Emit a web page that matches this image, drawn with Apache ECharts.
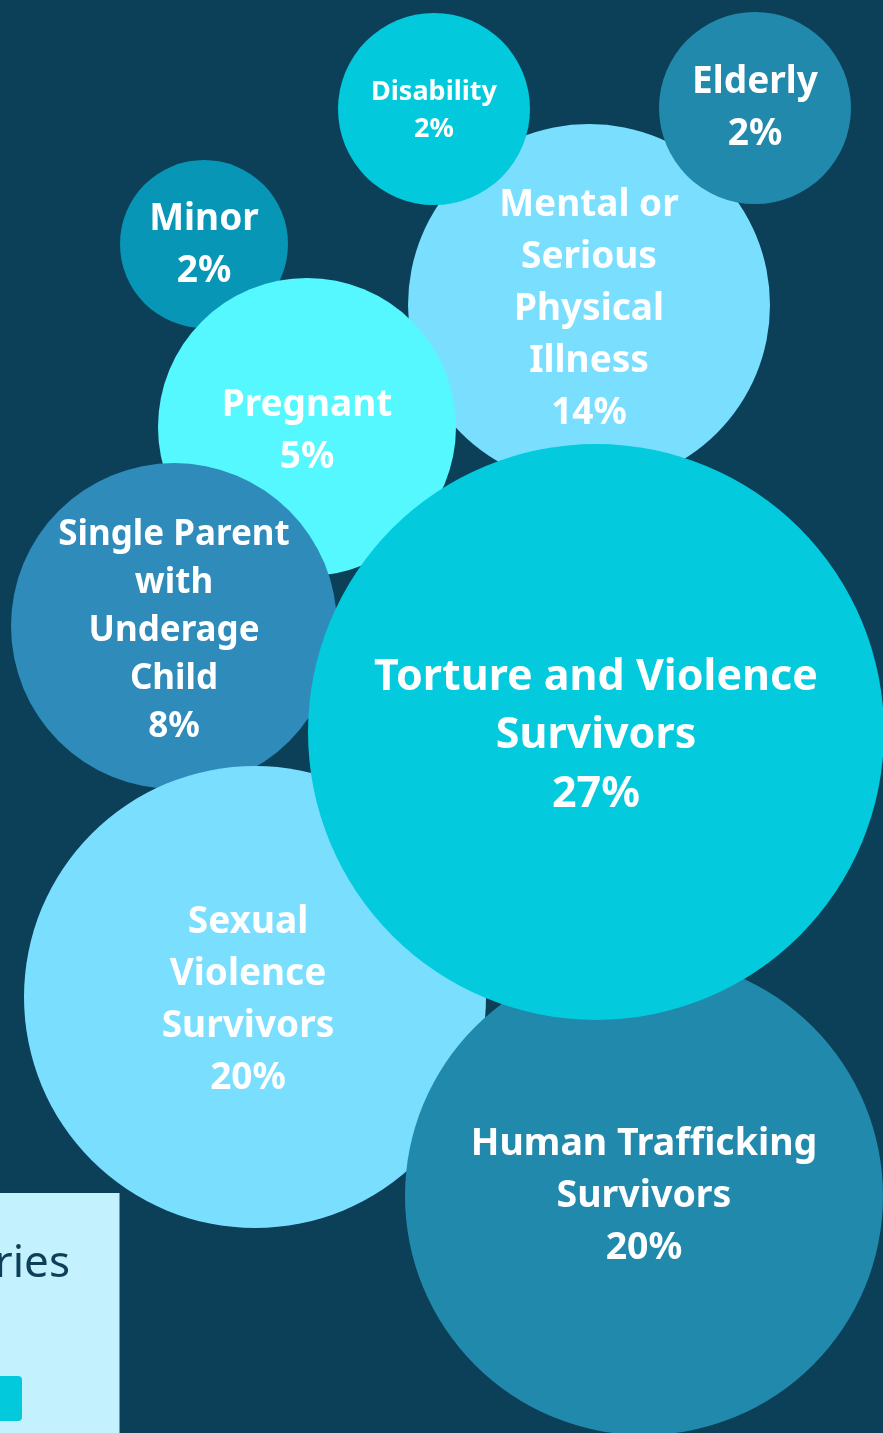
<!DOCTYPE html>
<html>
<head>
<meta charset="utf-8">
<script src="https://cdn.jsdelivr.net/npm/echarts@6/dist/echarts.min.js"></script>
<style>
  html, body { margin: 0; padding: 0; background: #0c3f58; }
  #chart { width: 883px; height: 1433px; }
</style>
</head>
<body>
<div id="chart"></div>
<script>
// ---- data (listed in drawing order, back to front) ----
const categories = [
  "Minor",
  "Mental or\nSerious\nPhysical\nIllness",
  "Disability",
  "Elderly",
  "Pregnant",
  "Single Parent\nwith\nUnderage\nChild",
  "Sexual\nViolence\nSurvivors",
  "Human Trafficking\nSurvivors",
  "Torture and Violence\nSurvivors"
];
const percentValues = [2, 14, 2, 2, 5, 8, 20, 20, 27];
const legendTitle = "Categories";

// ---- packed-bubble layout (pixel space): centre x, centre y, radius ----
const layoutCx = [204, 589, 434, 755, 307, 174, 255, 644, 596];
const layoutCy = [244, 305, 109, 108, 427, 626, 997, 1196, 732];
const layoutR  = [84, 181, 96, 96, 149, 163, 231, 239, 288];
const labelFont = [37, 37, 27, 37, 37, 35, 37, 37.5, 43];
const labelLine = [52, 52, 37, 52, 52, 48, 52, 52, 58.5];
const labelDx   = [0, 0, 0, 0, 0, 0, -7, 0, 0];
const labelDy   = [1, 4, 2, 0, 4, 5, 3, 0, 4];
const colors = ["#0896b6", "#7adfff", "#03c9dd", "#2089ac", "#55f8ff",
                "#2e8bba", "#7adfff", "#2089ac", "#03cadd"];

const W = 883, H = 1433;
const chart = echarts.init(document.getElementById('chart'), null, { renderer: 'canvas' });

const seriesData = categories.map((name, i) => ({
  name: name,
  value: [layoutCx[i], layoutCy[i], percentValues[i]],
  symbolSize: layoutR[i] * 2,
  itemStyle: { color: colors[i], opacity: 1 },
  label: {
    fontSize: labelFont[i],
    lineHeight: labelLine[i],
    offset: [labelDx[i], labelDy[i]]
  }
}));

chart.setOption({
  backgroundColor: '#0c3f58',
  animation: false,
  grid: { left: 0, right: 0, top: 0, bottom: 0 },
  xAxis: { type: 'value', min: 0, max: W, show: false },
  yAxis: { type: 'value', min: 0, max: H, inverse: true, show: false },
  series: [{
    type: 'scatter',
    symbol: 'circle',
    data: seriesData,
    label: {
      show: true,
      position: 'inside',
      align: 'center',
      verticalAlign: 'middle',
      color: '#ffffff',
      fontFamily: 'Noto Sans',
      fontWeight: 'bold',
      formatter: p => p.name + '\n' + p.value[2] + '%'
    },
    emphasis: { disabled: true }
  }],
  graphic: [
    { type: 'rect', shape: { x: -10, y: 1193, width: 129.5, height: 260 },
      style: { fill: '#c3f1fd' }, z: 10 },
    { type: 'text', x: 70, y: 1286, z: 11,
      style: { text: legendTitle, textAlign: 'right', textVerticalAlign: 'bottom',
               font: '44px "Noto Sans"', fill: '#0d3f57' } },
    { type: 'rect', shape: { x: -10, y: 1376, width: 32, height: 45, r: 4 },
      style: { fill: '#03c9dd' }, z: 11 }
  ]
});
</script>
</body>
</html>
